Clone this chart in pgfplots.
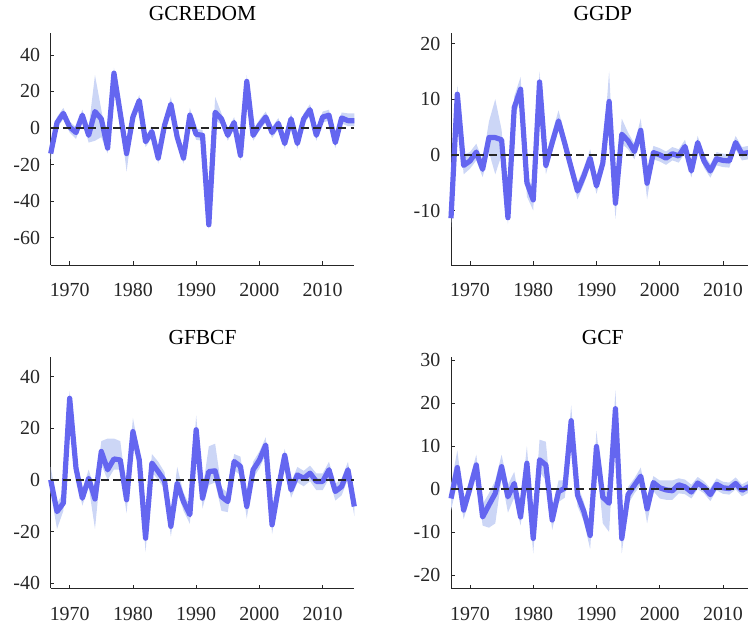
\documentclass[border=0pt]{standalone}
\usepackage{pgfplots}
\usepackage{pgfplotstable}
\pgfplotsset{compat=1.18}
\usepgfplotslibrary{fillbetween}
\usepackage{fontspec}
\setmainfont{Liberation Serif}

\definecolor{linec}{RGB}{100,102,240}
\definecolor{bandc}{RGB}{204,214,246}
\definecolor{axisgray}{RGB}{38,38,38}

% columns: year, estimate, lower bound, upper bound
\pgfplotstableread{
yr y lo hi
1967 -14 -17 -11
1968 3 0 6
1969 8 5 11
1970 0.5 -2.5 3.5
1971 -2.5 -6 0.5
1972 7 4 10
1973 -4 -8 0
1974 9 -7 29
1975 5 -5 10
1976 -11 -14 -8
1977 30 26 33
1978 8 5 11
1979 -14 -24 -10
1980 6 3 9
1981 15 12 18
1982 -7.5 -10.5 -4.5
1983 -2 -5 1
1984 -16.5 -19.5 -13.5
1985 1.5 -1.5 4.5
1986 13 9.5 17
1987 -5 -8 -2
1988 -16.5 -19.5 -13.5
1989 7 4 11
1990 -3.5 -6.5 -0.5
1991 -4 -7 -1
1992 -53 -55.5 -50
1993 8.6 4 17
1994 5 2 8
1995 -4 -7 -1
1996 3 0 6
1997 -15 -18 -12
1998 25.5 22 29
1999 -4 -7 -1
2000 1.5 -1.5 4.5
2001 6 3 9
2002 -2.5 -5.5 0.5
2003 2.5 -0.5 5.5
2004 -8.5 -11.5 -5.5
2005 5 2 8
2006 -8.5 -11.5 -5.5
2007 5 2 8
2008 10 7 13
2009 -4 -7 -1
2010 6 3 9
2011 7 4 10
2012 -8 -11 -5
2013 5.5 2.5 8.5
2014 4 1 8
2015 4 1 8
}\gcredom

\pgfplotstableread{
yr y lo hi
1967 -11.4 -13 -9.5
1968 10.9 9 12.5
1969 -1.9 -3.5 0
1970 -1.1 -2.5 0.5
1971 0.5 -1 2
1972 -2.6 -4 -1
1973 3.1 0.5 6
1974 3.1 -3.5 10
1975 2.7 0 4.5
1976 -11.3 -12.5 -9.5
1977 8.5 6.5 10.5
1978 11.8 10 14
1979 -5 -7.5 -3
1980 -8.1 -10 -6.5
1981 13.1 11.5 15
1982 -1.9 -3.5 0
1983 2.2 0.5 4
1984 6.1 4.5 8
1985 2 0.5 3.5
1986 -2.3 -3.8 -0.8
1987 -6.5 -8 -5
1988 -3.8 -5.3 -2.3
1989 -0.6 -2 1
1990 -5.6 -7 -4
1991 -1.5 -3 0
1992 9.6 6 15
1993 -8.7 -11.5 -7
1994 3.7 2 6.5
1995 2.5 1 4
1996 0.6 -0.8 2
1997 4.4 2.8 6.5
1998 -5.1 -8 -3.5
1999 0.4 -0.8 1.6
2000 0 -1.2 1.2
2001 -0.6 -1.8 0.6
2002 0.2 -1 1.4
2003 -0.2 -1.4 1
2004 1.5 0.3 2.7
2005 -2.9 -4.1 -1.7
2006 2.2 1 3.4
2007 -1.1 -2.3 0.1
2008 -2.9 -4.1 -1.7
2009 -0.7 -1.9 0.5
2010 -1 -2.2 0.2
2011 -1.1 -2.3 0.1
2012 2.2 1 3.4
2013 0.2 -1 1.4
2014 0.4 -0.8 1.6
2015 0.3 -0.9 1.5
}\ggdp

\pgfplotstableread{
yr y lo hi
1967 0 -5 5
1968 -12.3 -19 -9
1969 -9 -12 -5
1970 31.6 28.5 34.5
1971 4.5 1.5 7.5
1972 -7.1 -10 -4
1973 0.6 -2.5 4
1974 -7.4 -19 -4
1975 11 6 15
1976 3.9 0 16
1977 8.1 4 16
1978 7.7 4 15
1979 -7.7 -13 -4
1980 18.7 15 24
1981 7.7 4 11
1982 -22.6 -28 -19
1983 6.5 3 10
1984 3.2 0 7
1985 -0.4 -3.5 3
1986 -18 -22 -15
1987 -1.3 -4.5 5
1988 -8.4 -12 -5
1989 -13.5 -17 -10
1990 19.4 16 25
1991 -7.1 -11 -4
1992 3.2 -2 13
1993 3.5 -1 14
1994 -6.5 -12 -3
1995 -8.4 -12.5 -5
1996 7.1 3.5 10
1997 5.2 2 9
1998 -10.3 -15 -7
1999 3.9 0.5 7
2000 7.7 4.5 11
2001 13.5 10 16.5
2002 -17.4 -21 -14
2003 -3.2 -6.5 0
2004 9.5 6 12
2005 -3.9 -7 -1
2006 1.9 -1 5
2007 0.6 -2.5 3.5
2008 2.6 -0.5 5.5
2009 -0.6 -4 2.5
2010 -0.6 -4 2.5
2011 3.9 0.5 7
2012 -4.5 -8 -1.5
2013 -2.6 -6 0.5
2014 3.9 0.5 7
2015 -10.3 -14 -7
}\gfbcf

\pgfplotstableread{
yr y lo hi
1967 -2.2 -5 1
1968 5 1.5 9
1969 -4.9 -7 -2.5
1970 0.2 -2 2.5
1971 5.6 3 8
1972 -6.5 -8.5 -3.5
1973 -3.7 -9 -1
1974 -1 -8 2
1975 5.2 2.5 8
1976 -1.8 -5.5 1
1977 1.3 -2 4
1978 -6.5 -8.5 -4
1979 6 2 10
1980 -11.5 -15 -9
1981 6.8 4 11.5
1982 5.6 2 11
1983 -7.2 -9.5 -5
1984 -0.6 -3 2
1985 0.2 -2 2
1986 15.9 13 19.5
1987 -1.4 -4 1
1988 -5.2 -7.5 -3
1989 -10.8 -14 -8.5
1990 9.9 7 13.5
1991 -1.9 -8 0.5
1992 -3.3 -10 -1
1993 18.7 16 23
1994 -11.5 -15 -9.5
1995 -1.3 -3.5 0.5
1996 0.9 -1 2.5
1997 3 1 5
1998 -4.6 -8 -2.5
1999 1.5 -0.5 3
2000 0.3 -2.2 2
2001 -0.2 -2.5 2
2002 -0.4 -2.5 2
2003 1 -1 2.5
2004 0.5 -1.2 2.2
2005 -0.7 -2.2 1
2006 1.4 0 2.8
2007 0.4 -1 1.8
2008 -1.3 -2.8 0.2
2009 1.1 -0.3 2.5
2010 0.3 -1.1 1.7
2011 0.1 -1.3 1.5
2012 1.3 -0.1 2.7
2013 -0.3 -1.7 1.1
2014 0.5 -0.9 1.9
2015 0.3 -1.1 1.7
}\gcf

\pgfplotsset{
  panel/.style={
    scale only axis, width=303.6bp, height=232bp,
    anchor=south west, clip=false,
    axis lines*=left,
    axis line style={draw=axisgray, line width=0.8bp},
    tick align=inside, major tick length=3.5bp,
    tick style={draw=axisgray, line width=0.8bp},
    xmin=1967, xmax=2015, xtick={1970,1980,...,2010},
    /pgf/number format/assume math mode=true,
    /pgf/number format/1000 sep={},
    tick label style={font=\fontsize{20}{24}\selectfont, text=axisgray},
    xticklabel style={anchor=base, yshift=-31.7bp},
    yticklabel style={anchor=east, inner sep=0pt, xshift=-10.5bp},
    title style={font=\fontsize{21.5}{26}\selectfont, at={(0.5,1)},
                 anchor=base, yshift=7bp},
  },
  estline/.style={color=linec, line width=5.2bp, line join=round},
  zeroline/.style={black!85, line width=1.4bp, dash pattern=on 8bp off 4.5bp},
}

% band, estimate and zero reference for one table
\newcommand{\panelplots}[1]{%
  \addplot[name path=up, draw=none] table[x=yr, y=hi]{#1};
  \addplot[name path=dn, draw=none] table[x=yr, y=lo]{#1};
  \addplot[fill=bandc, draw=none] fill between[of=up and dn];
  \addplot[estline] table[x=yr, y=y]{#1};
  \addplot[zeroline] coordinates {(1967,0) (2015,0)};
}

\begin{document}
\begin{tikzpicture}
\coordinate (origin) at (0,0);

\begin{axis}[panel, at={(50.7bp,359bp)}, title={GCREDOM},
  ymin=-75, ymax=52, ytick={-60,-40,...,40}]
  \panelplots{\gcredom}
\end{axis}

\begin{axis}[panel, at={(451bp,359bp)}, title={GGDP},
  ymin=-19.8, ymax=21.9, ytick={-10,0,10,20}]
  \panelplots{\ggdp}
\end{axis}

\begin{axis}[panel, at={(50.7bp,35.7bp)}, height=231.6bp, title={GFBCF},
  title style={yshift=-0.5bp},
  ymin=-42, ymax=47.7, ytick={-40,-20,...,40}]
  \panelplots{\gfbcf}
\end{axis}

\begin{axis}[panel, at={(451bp,35.7bp)}, height=231.6bp, title={GCF},
  title style={yshift=-0.5bp},
  ymin=-23.1, ymax=30.8, ytick={-20,-10,...,30}]
  \panelplots{\gcf}
\end{axis}

% page area: the right-hand panels run past its edge
\pgfresetboundingbox
\path[use as bounding box] (0,0) rectangle (748bp,624bp);
\end{tikzpicture}
\end{document}
